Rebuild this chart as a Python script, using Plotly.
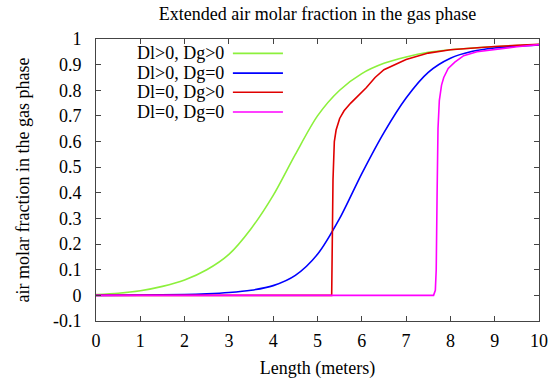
import plotly.graph_objects as go

# ---- data ----
green_x = [0, 0.5, 1, 1.5, 2, 2.5, 3, 3.5, 4, 4.5, 5, 5.5, 6, 6.5, 7, 7.5, 8, 8.5, 9, 9.5, 10]
green_y = [0.003, 0.008, 0.018, 0.035, 0.06, 0.1, 0.16, 0.26, 0.39, 0.55, 0.70, 0.80, 0.865, 0.905,
           0.93, 0.948, 0.958, 0.965, 0.970, 0.974, 0.978]

blue_x = [0, 1, 2, 2.5, 3, 3.5, 4, 4.5, 5, 5.5, 6, 6.5, 7, 7.5, 8, 8.5, 9, 9.5, 10]
blue_y = [0, 0.001, 0.003, 0.006, 0.011, 0.02, 0.038, 0.078, 0.16, 0.30, 0.475, 0.635, 0.77, 0.87,
          0.925, 0.952, 0.965, 0.972, 0.977]

red_x = [0, 5.32, 5.33, 5.35, 5.38, 5.42, 5.5, 5.6, 5.75, 5.9, 6.0, 6.1, 6.3, 6.5, 7.0, 7.5, 8, 8.5, 9, 9.5, 10]
red_y = [0, 0, 0.15, 0.45, 0.60, 0.645, 0.69, 0.72, 0.75, 0.775, 0.79, 0.81, 0.85, 0.88, 0.92, 0.945,
         0.958, 0.965, 0.971, 0.975, 0.979]

mag_x = [0, 7.62, 7.66, 7.68, 7.70, 7.72, 7.75, 7.8, 7.85, 7.95, 8.1, 8.3, 8.6, 9, 9.5, 10]
mag_y = [0, 0, 0.02, 0.1, 0.4, 0.65, 0.76, 0.82, 0.85, 0.885, 0.91, 0.935, 0.95, 0.96, 0.97, 0.978]

labels = ["Dl>0, Dg>0", "Dl>0, Dg=0", "Dl=0, Dg>0", "Dl=0, Dg=0"]
colors = ["#8cf03c", "#0000ff", "#e00000", "#ff00ff"]

x_ticks = list(range(0, 11))
y_ticks = [-0.1, 0, 0.1, 0.2, 0.3, 0.4, 0.5, 0.6, 0.7, 0.8, 0.9, 1]
y_tick_text = ["-0.1", "0", "0.1", "0.2", "0.3", "0.4", "0.5", "0.6", "0.7", "0.8", "0.9", "1"]

FONT = "Liberation Serif"
FS = 18

fig = go.Figure()
series = [(green_x, green_y, "spline"), (blue_x, blue_y, "spline"), (red_x, red_y, "linear"), (mag_x, mag_y, "linear")]
for (xs, ys, shape), lab, col in zip(series, labels, colors):
    fig.add_trace(go.Scatter(x=xs, y=ys, mode="lines", name=lab,
                             line=dict(color=col, width=1.6, shape=shape, smoothing=0.8),
                             showlegend=False))

# custom gnuplot-style legend (text left, sample line right)
leg_y = [0.949, 0.879, 0.811, 0.741]
for lab, col, yy in zip(labels, colors, leg_y):
    fig.add_annotation(x=0.293, y=yy, xref="paper", yref="paper", text=lab, showarrow=False,
                       xanchor="right", yanchor="middle", font=dict(family=FONT, size=FS, color="black"))
    fig.add_shape(type="line", xref="paper", yref="paper", x0=0.309, x1=0.422, y0=yy, y1=yy,
                  line=dict(color=col, width=1.6))

axis_common = dict(showline=True, linecolor="#444", linewidth=1, mirror="ticks", ticks="inside",
                   ticklen=5, tickcolor="#444", showgrid=False, zeroline=False, automargin=False,
                   tickfont=dict(family=FONT, size=FS, color="black"))

fig.update_layout(
    width=551, height=385,
    margin=dict(l=96, r=12, t=39, b=64),
    plot_bgcolor="white", paper_bgcolor="white",
    title=dict(text="Extended air molar fraction in the gas phase", x=0.5763, xanchor="center",
               y=1 - 14 / 385, yanchor="middle", yref="container",
               font=dict(family=FONT, size=FS, color="black")),
    xaxis=dict(range=[0, 10], tickvals=x_ticks, ticktext=[str(t) for t in x_ticks],
               ticklabelstandoff=3,
               title=dict(text="Length (meters)", font=dict(family=FONT, size=FS, color="black"), standoff=11),
               **axis_common),
    yaxis=dict(range=[-0.1, 1], tickvals=y_ticks, ticktext=y_tick_text,
               ticklabelstandoff=10,
               title=dict(text="air molar fraction in the gas phase", font=dict(family=FONT, size=FS, color="black"), standoff=18),
               **axis_common),
)

fig.write_html("out.html")
